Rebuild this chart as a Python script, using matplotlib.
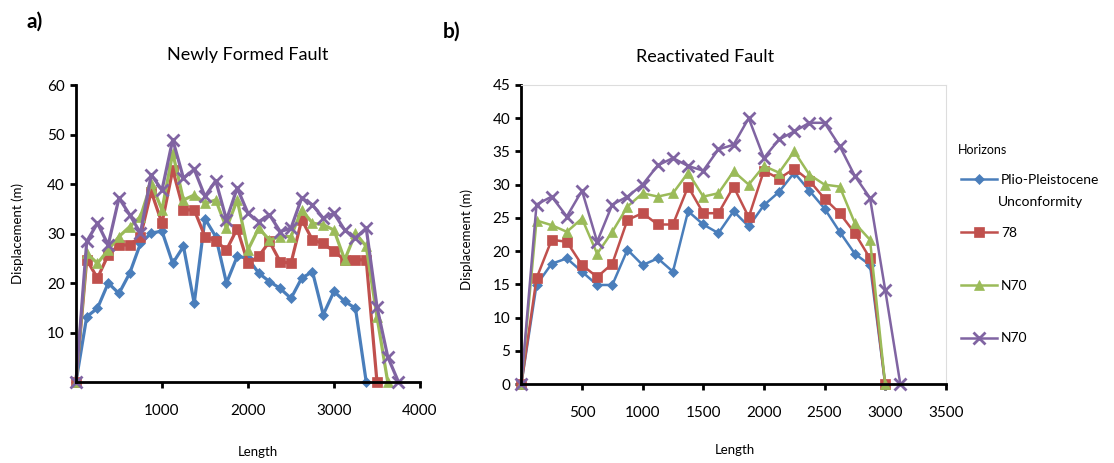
import matplotlib
matplotlib.use("Agg")
import matplotlib.pyplot as plt

plt.rcParams['font.family'] = ['Lato', 'DejaVu Sans']

# ---------------- data: a) newly formed fault ----------------
length_a = [0, 125, 250, 375, 500, 625, 750, 875, 1000, 1125, 1250, 1375, 1500,
            1625, 1750, 1875, 2000, 2125, 2250, 2375, 2500, 2625, 2750, 2875,
            3000, 3125, 3250, 3375, 3500, 3625, 3750]
plio_a = [0, 13.2, 14.9, 20, 17.9, 22, 28, 30.1, 30.5, 24, 27.4, 15.9, 33, 29.4,
          20, 25.4, 25, 22, 20.3, 18.9, 16.9, 21, 22.3, 13.6, 18.3, 16.3, 14.9, 0]
h78_a = [0, 24.7, 21, 25.7, 27.7, 27.7, 29.4, 38.5, 32.1, 42.9, 34.8, 34.8, 29.4,
         28.5, 26.7, 31, 24, 25.4, 28.4, 24.3, 24, 32.8, 28.7, 28, 26.4, 24.7,
         24.7, 24.7, 0]
n70_a = [0, 26, 24, 26.7, 29.4, 31.4, 33.4, 40.2, 34.8, 46.3, 36.8, 37.8, 36.1,
         36.8, 31.1, 36.8, 26.7, 31.1, 28.7, 29.4, 29.4, 34.8, 32.1, 31.8, 30.7,
         24.7, 30.1, 27.4, 13.2, 0]
n70b_a = [0, 28.4, 32.1, 27.7, 37.2, 33.8, 30.1, 41.9, 38.8, 49, 41.2, 43, 37.5,
          40.7, 32.8, 39.2, 34.1, 32.4, 33.8, 30.4, 31.1, 37.2, 35.8, 33.1, 34.1,
          30.7, 29.1, 31.1, 15.2, 5.1, 0]

# ---------------- data: b) reactivated fault ----------------
length_b = [0, 125, 250, 375, 500, 625, 750, 875, 1000, 1125, 1250, 1375, 1500,
            1625, 1750, 1875, 2000, 2125, 2250, 2375, 2500, 2625, 2750, 2875,
            3000, 3125]
plio_b = [0, 14.9, 18.1, 18.9, 16.9, 14.9, 14.9, 20.2, 17.9, 18.9, 16.9, 26, 24,
          22.7, 26, 23.7, 26.9, 28.9, 31.8, 29.1, 26.4, 22.9, 19.6, 17.9, 0]
h78_b = [0, 15.9, 21.7, 21.4, 17.9, 16.1, 18.1, 24.7, 25.7, 24, 24, 29.7, 25.7,
         25.7, 29.7, 25.1, 32.1, 30.9, 32.4, 30.6, 27.9, 25.7, 22.7, 18.9, 0]
n70_b = [0, 24.6, 23.9, 22.9, 24.9, 19.6, 22.9, 26.7, 28.7, 28.2, 28.7, 31.8, 28.2,
         28.7, 32, 30, 32.8, 31.8, 35, 31.5, 30, 29.7, 24.2, 21.7, 0]
n70b_b = [0, 27, 28.2, 25.2, 29.1, 21.4, 27, 28.2, 30, 32.9, 34, 32.8, 32.1, 35.3,
          36, 40, 34, 36.8, 38, 39.3, 39.3, 35.8, 31.3, 28, 14.2, 0]

labels = ["Plio-Pleistocene", "78", "N70", "N70"]
colors = ["#4A7EBB", "#C0504D", "#9BBB59", "#8064A2"]
markers = ["D", "s", "^", "x"]
msizes = [5.5, 7, 7.5, 8]

fig = plt.figure(figsize=(11.14, 4.63), dpi=100)
ax1 = fig.add_axes([0.0682, 0.175, 0.3088, 0.641])
ax2 = fig.add_axes([0.468, 0.1706, 0.381, 0.646])


def draw(ax, x, series, lw):
    for ys, lab, c, m, ms in zip(series, labels, colors, markers, msizes):
        ax.plot(x[:len(ys)], ys, color=c, marker=m, markersize=ms, lw=lw,
                mew=2 if m == "x" else 0.5, mec=c, label=lab, clip_on=False)


draw(ax1, length_a, [plio_a, h78_a, n70_a, n70b_a], 2.3)
draw(ax2, length_b, [plio_b, h78_b, n70_b, n70b_b], 1.8)

# left panel axes
ax1.set_xlim(0, 4000)
ax1.set_ylim(0, 60)
ax1.set_xticks([1000, 2000, 3000, 4000])
ax1.set_yticks([10, 20, 30, 40, 50, 60])
ax1.spines[['top', 'right']].set_visible(False)

# right panel axes
ax2.set_xlim(0, 3500)
ax2.set_ylim(0, 45)
ax2.set_xticks([500, 1000, 1500, 2000, 2500, 3000, 3500])
ax2.set_yticks(range(0, 46, 5))
for s in ['top', 'right']:
    ax2.spines[s].set_color("#DDDDDD")
    ax2.spines[s].set_linewidth(0.8)

for ax in (ax1, ax2):
    for s in ['left', 'bottom']:
        ax.spines[s].set_linewidth(2)
    ax.tick_params(width=2, length=4, labelsize=11, pad=4)
    ax.tick_params(axis='x', pad=12)

fig.text(248 / 1114, 1 - 55 / 463, "Newly Formed Fault", ha='center', va='center', fontsize=13)
fig.text(705 / 1114, 1 - 57 / 463, "Reactivated Fault", ha='center', va='center', fontsize=13)
fig.text(35 / 1114, 1 - 22 / 463, "a)", ha='center', va='center', fontsize=15, fontweight='bold')
fig.text(452 / 1114, 1 - 32 / 463, "b)", ha='center', va='center', fontsize=15, fontweight='bold')
fig.text(18 / 1114, 1 - 233 / 463, "Displacement (m)", rotation=90, ha='center', va='center', fontsize=9.5)
fig.text(467 / 1114, 1 - 240 / 463, "Displacement (m)", rotation=90, ha='center', va='center', fontsize=9.5)
fig.text(258 / 1114, 1 - 452 / 463, "Length", ha='center', va='center', fontsize=9.5)
fig.text(735 / 1114, 1 - 450 / 463, "Length", ha='center', va='center', fontsize=9.5)

# legend: title and the second line of the first label are written separately
fig.text(958 / 1114, 1 - 150 / 463, "Horizons", ha='left', va='center', fontsize=9)
leg = ax2.legend(loc='upper left', bbox_to_anchor=(955 / 1114, 1 - 168 / 463),
                 bbox_transform=fig.transFigure, frameon=False,
                 fontsize=10, labelspacing=2.95, handlelength=2.6,
                 handletextpad=0.3, borderaxespad=0)
fig.text(998 / 1114, 1 - 202 / 463, "Unconformity", ha='left', va='center', fontsize=10)

fig.savefig("out.png", dpi=100)
